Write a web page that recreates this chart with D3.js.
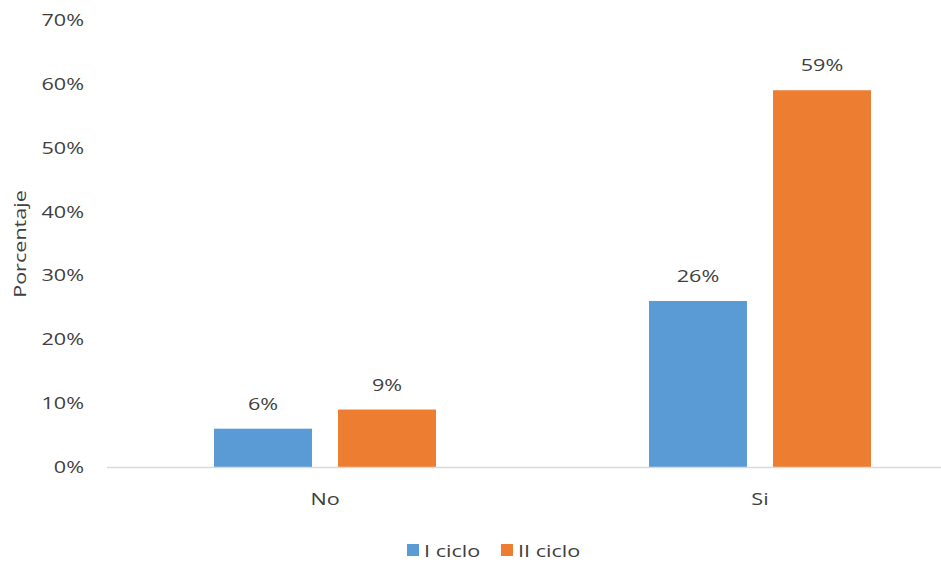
<!DOCTYPE html>
<html>
<head>
<meta charset="utf-8">
<script src="https://cdn.jsdelivr.net/npm/d3@7/dist/d3.min.js"></script>
<style>
  html, body { margin: 0; padding: 0; background: #ffffff; }
  svg { display: block; }
  text { font-family: "Open Sans", "Noto Sans", sans-serif; fill: #404040; }
</style>
</head>
<body>
<svg id="chart" width="941" height="563"></svg>
<script>
// Chart data
const categories = ["No", "Si"];
const seriesNames = ["I ciclo", "II ciclo"];
const serieICiclo = [6, 26];
const serieIICiclo = [9, 59];
const yTicks = [0, 10, 20, 30, 40, 50, 60, 70];
const yTitle = "Porcentaje";

const colors = ["#5b9bd5", "#ed7d31"];
const seriesValues = [serieICiclo, serieIICiclo];

const svg = d3.select("#chart");
const W = 941, H = 563;
const stretch = 1.27; // horizontal text widening

// Scales
const y = d3.scaleLinear().domain([0, 70]).range([467, 20]);
const x0 = d3.scaleBand().domain(categories).range([107.5, 977.5]);
const groupWidth = 222;
const x1 = d3.scaleBand().domain(seriesNames)
  .range([x0.bandwidth() / 2 - groupWidth / 2, x0.bandwidth() / 2 + groupWidth / 2])
  .paddingInner(0.21);

// Helper: text widened horizontally
function label(g, xPos, yPos, str, size, anchor) {
  return g.append("text")
    .attr("transform", `translate(${xPos},${yPos}) scale(${stretch},1)`)
    .attr("text-anchor", anchor || "middle")
    .style("font-size", size + "px")
    .text(str);
}

// Y axis labels (no line, no ticks)
const yAxis = d3.axisLeft(y).tickValues(yTicks).tickFormat(d => d + "%").tickSize(0).tickPadding(0);
const yg = svg.append("g").attr("transform", "translate(84,0)").call(yAxis);
yg.select(".domain").remove();
yg.selectAll("text")
  .attr("x", 0)
  .attr("dy", "0.35em")
  .attr("transform", function(d) { return `translate(0,0)`; })
  .style("font-size", "17px")
  .style("font-family", "\"Open Sans\", sans-serif")
  .attr("fill", "#404040")
  .each(function(d) {
    const t = d3.select(this);
    const ty = y(d);
    t.attr("y", null);
    d3.select(this.parentNode).attr("transform", `translate(0,${ty})`);
    t.attr("transform", `scale(${stretch},1)`);
  });

// Y title
svg.append("text")
  .attr("transform", `translate(26,244) rotate(-90) scale(${stretch},1)`)
  .attr("text-anchor", "middle")
  .style("font-size", "17px")
  .text(yTitle);

// Bars
const groups = svg.append("g").selectAll("g")
  .data(categories)
  .join("g")
  .attr("transform", d => `translate(${x0(d)},0)`);

groups.each(function(cat, ci) {
  const g = d3.select(this);
  seriesNames.forEach((s, si) => {
    const v = seriesValues[si][ci];
    g.append("rect")
      .attr("x", x1(s))
      .attr("y", y(v))
      .attr("width", x1.bandwidth())
      .attr("height", y(0) - y(v))
      .attr("fill", colors[si]);
    label(g, x1(s) + x1.bandwidth() / 2, y(v) - 19, v + "%", 17);
  });
});

// X axis line
svg.append("line")
  .attr("x1", 107).attr("x2", W)
  .attr("y1", 467.5).attr("y2", 467.5)
  .attr("stroke", "#d9d9d9").attr("stroke-width", 1.5);

// Category labels
categories.forEach(c => {
  label(svg, x0(c) + x0.bandwidth() / 2, 505, c, 17);
});

// Legend
const legendItems = [
  { name: seriesNames[0], color: colors[0], x: 407 },
  { name: seriesNames[1], color: colors[1], x: 501 }
];
legendItems.forEach(it => {
  svg.append("rect")
    .attr("x", it.x).attr("y", 544)
    .attr("width", 12).attr("height", 12)
    .attr("fill", it.color);
  label(svg, it.x + 17, 557, it.name, 17, "start");
});
</script>
</body>
</html>
